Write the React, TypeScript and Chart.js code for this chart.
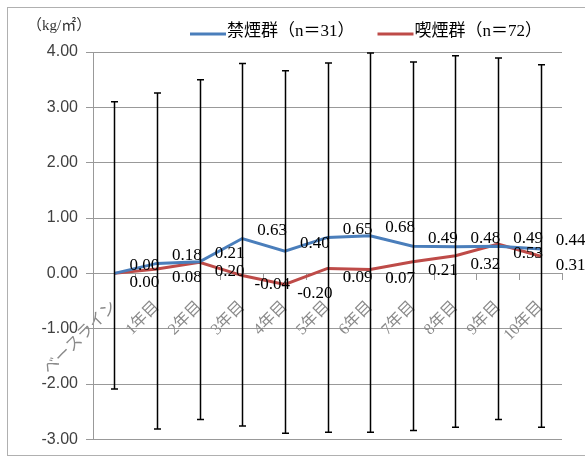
import React, { useEffect, useRef } from "react";
import { Chart, registerables } from "chart.js";

Chart.register(...registerables);

const categories = ["ベースライン", "1年目", "2年目", "3年目", "4年目", "5年目", "6年目", "7年目", "8年目", "9年目", "10年目"];
const quitValues = [0.0, 0.18, 0.21, 0.63, 0.4, 0.65, 0.68, 0.49, 0.48, 0.49, 0.44];
const smokeValues = [0.0, 0.08, 0.2, -0.04, -0.2, 0.09, 0.07, 0.21, 0.32, 0.53, 0.31];
const errHigh = [3.1, 3.26, 3.5, 3.79, 3.66, 3.8, 3.98, 3.82, 3.93, 3.89, 3.77];
const errLow = [-2.09, -2.81, -2.64, -2.76, -2.89, -2.87, -2.87, -2.84, -2.78, -2.64, -2.78];
const seriesNames = ["禁煙群（n＝31）", "喫煙群（n＝72）"];
const unitLabel = "（kg/㎡）";
const yMin = -3;
const yMax = 4;

const SERIF = '"Liberation Serif", "Noto Sans CJK JP", serif';
const BLUE = "#4A7EBB";
const RED = "#BE4B48";
const GRID = "#999999";

const overlay = {
  id: "overlay",
  beforeDraw(chart: any) {
    const ctx = chart.ctx;
    ctx.save();
    ctx.fillStyle = "#ffffff";
    ctx.fillRect(0, 0, chart.width, chart.height);
    ctx.strokeStyle = "#b0b0b0";
    ctx.lineWidth = 1;
    ctx.strokeRect(7.5, 7.5, chart.width + 10, 448);
    ctx.restore();
  },
  afterDatasetsDraw(chart: any) {
    const ctx = chart.ctx;
    const xs = chart.scales.x;
    const ys = chart.scales.y;
    ctx.save();
    // error bars
    ctx.strokeStyle = "#000000";
    ctx.lineWidth = 1.5;
    errHigh.forEach((h, i) => {
      const px = Math.round(xs.getPixelForValue(i)) + 0.5;
      const top = ys.getPixelForValue(h);
      const bot = ys.getPixelForValue(errLow[i]);
      ctx.beginPath();
      ctx.moveTo(px, top);
      ctx.lineTo(px, bot);
      ctx.moveTo(px - 3.5, top);
      ctx.lineTo(px + 3.5, top);
      ctx.moveTo(px - 3.5, bot);
      ctx.lineTo(px + 3.5, bot);
      ctx.stroke();
    });
    // data labels
    ctx.fillStyle = "#000000";
    ctx.font = `17px ${SERIF}`;
    ctx.textAlign = "center";
    ctx.textBaseline = "middle";
    chart.data.datasets.forEach((ds: any, di: number) => {
      const meta = chart.getDatasetMeta(di);
      meta.data.forEach((pt: any, i: number) => {
        const v = ds.data[i] as number;
        ctx.fillText(v.toFixed(2), pt.x + 30, pt.y + (di === 0 ? -8 : 9));
      });
    });
    // legend
    ctx.font = `17px ${SERIF}`;
    ctx.textAlign = "left";
    let lx = 190;
    chart.data.datasets.forEach((ds: any) => {
      ctx.strokeStyle = ds.borderColor;
      ctx.lineWidth = 3;
      ctx.beginPath();
      ctx.moveTo(lx, 34);
      ctx.lineTo(lx + 36, 34);
      ctx.stroke();
      ctx.fillStyle = "#000000";
      ctx.fillText(ds.label, lx + 37, 32);
      lx += 37 + ctx.measureText(ds.label).width + 23;
    });
    // unit label
    ctx.font = `15px ${SERIF}`;
    ctx.fillStyle = "#333333";
    ctx.fillText(unitLabel, 27, 26);
    ctx.restore();
  },
};

export default function App() {
  const ref = useRef<HTMLCanvasElement>(null);
  useEffect(() => {
    if (!ref.current) return;
    const chart = new Chart(ref.current, {
      type: "line",
      data: {
        labels: categories,
        datasets: [
          { label: seriesNames[0], data: quitValues, borderColor: BLUE, backgroundColor: BLUE, borderWidth: 3, pointRadius: 0, tension: 0 },
          { label: seriesNames[1], data: smokeValues, borderColor: RED, backgroundColor: RED, borderWidth: 3, pointRadius: 0, tension: 0 },
        ],
      },
      options: {
        responsive: false,
        animation: false,
        layout: { padding: { top: 52, bottom: 14, right: 23, left: 0 } },
        plugins: { legend: { display: false }, tooltip: { enabled: false } },
        scales: {
          x: {
            type: "category",
            offset: true,
            position: { y: 0 } as any,
            grid: { offset: true, drawOnChartArea: false, drawTicks: true, tickLength: 6, color: GRID },
            border: { display: true, color: GRID },
            ticks: {
              minRotation: 45,
              maxRotation: 45,
              autoSkip: false,
              padding: 18,
              color: "#8a8a8a",
              font: { family: SERIF, size: 16 },
            },
          },
          y: {
            min: yMin,
            max: yMax,
            afterFit: (s: any) => {
              s.width = 93;
            },
            ticks: {
              stepSize: 1,
              padding: 8,
              color: "#404040",
              font: { family: '"Liberation Sans", sans-serif', size: 16 },
              callback: (v: any) => Number(v).toFixed(2),
            },
            grid: { color: GRID, tickLength: 7 },
            border: { display: true, color: GRID },
          },
        },
      },
      plugins: [overlay],
    });
    return () => chart.destroy();
  }, []);
  return (
    <div style={{ position: "absolute", left: 0, top: 0 }}>
      <canvas ref={ref} width={585} height={457} style={{ display: "block" }} />
    </div>
  );
}
